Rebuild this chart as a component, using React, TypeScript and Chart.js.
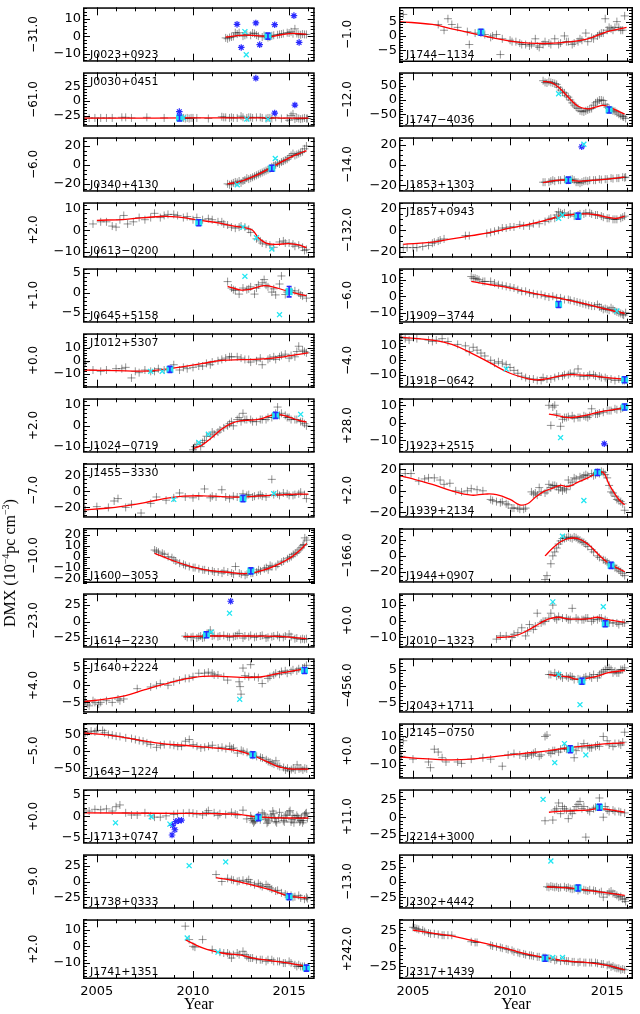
import React, { useEffect, useRef } from "react";
import { Chart, registerables } from "chart.js";
Chart.register(...registerables);

// ---------- axes ----------
const X_MIN = 2004.28;
const X_MAX = 2016.33;
const xTickLabels = [2005, 2010, 2015];
const xMinorTicks = [2005, 2006, 2007, 2008, 2009, 2010, 2011, 2012, 2013, 2014, 2015, 2016];

// panels: 0-14 left column (top to bottom), 15-29 right column
const pulsarNames = [
  "J0023+0923", "J0030+0451", "J0340+4130", "J0613−0200", "J0645+5158",
  "J1012+5307", "J1024−0719", "J1455−3330", "J1600−3053", "J1614−2230",
  "J1640+2224", "J1643−1224", "J1713+0747", "J1738+0333", "J1741+1351",
  "J1744−1134", "J1747−4036", "J1853+1303", "J1857+0943", "J1909−3744",
  "J1918−0642", "J1923+2515", "J1939+2134", "J1944+0907", "J2010−1323",
  "J2043+1711", "J2145−0750", "J2214+3000", "J2302+4442", "J2317+1439",
];
const offsetLabels = [
  "−31.0", "−61.0", "−6.0", "+2.0", "+1.0", "+0.0", "+2.0", "−7.0", "−10.0", "−23.0",
  "+4.0", "−5.0", "+0.0", "−9.0", "+2.0",
  "−1.0", "−12.0", "−14.0", "−132.0", "−6.0", "−4.0", "+28.0", "+2.0", "−166.0", "+0.0",
  "−456.0", "+0.0", "+11.0", "−13.0", "+242.0",
];
const nameAtTop = [1, 5, 7, 10, 18, 26];
const yMins = [-14.7, -44, -28.3, -12.9, -7.4, -20.4, -12.9, -32.8, -24, -39.7, -8, -82, -6.3, -43, -19.5,
  -9.1, -94, -26.4, -25.3, -16.1, -19, -17.1, -24.9, -34, -16.3, -7.9, -19.8, -37.2, -43.8, -42.8];
const yMaxs = [16.6, 49, 29.2, 13.2, 6.1, 20.8, 13.2, 35, 26, 42.9, 7.85, 84, 6.2, 43, 16.1,
  10.1, 97.6, 27.4, 25.7, 17, 18.7, 14, 25.5, 35, 17.3, 8.35, 19.3, 39.2, 44.9, 40.1];
const yTickLabels = [
  [-10, 0, 10], [-25, 0, 25], [-20, 0, 20], [-10, 0, 10], [-5, 0, 5],
  [-10, 0, 10], [-10, 0, 10], [-20, 0, 20], [-20, -10, 0, 10, 20], [-25, 0, 25],
  [-5, 0, 5], [-50, 0, 50], [-5, 0, 5], [-25, 0, 25], [-10, 0, 10],
  [-5, 0, 5], [-50, 0, 50], [-20, 0, 20], [-20, 0, 20], [-10, 0, 10],
  [-10, 0, 10], [-10, 0, 10], [-20, 0, 20], [-20, 0, 20], [-10, 0, 10],
  [-5, 0, 5], [-10, 0, 10], [-25, 0, 25], [-25, 0, 25], [-25, 0, 25],
];
const yMinorSteps = [2, 5, 5, 2, 1, 2, 2, 5, 2, 5, 1, 10, 1, 5, 2, 1, 10, 5, 5, 2, 2, 2, 5, 5, 2, 1, 2, 5, 5, 5];

// ---------- data (flat [year, value, ...]) ----------
const fitCurves: number[][] = [
  [2011.7, -0.5, 2012.5, 0.5, 2013.3, 0.3, 2014, -0.2, 2014.6, 0.8, 2015.2, 1.6, 2015.9, 1.0],
  [2004.3, -29.5, 2008, -29.2, 2011, -28.8, 2013, -29, 2015, -29.2, 2016, -29.5],
  [2011.8, -20, 2012.4, -18, 2013, -13.5, 2013.5, -9, 2014, -3.5, 2014.5, 2, 2015, 7.5, 2015.5, 12, 2015.9, 15],
  [2005, 4.7, 2006.5, 5.2, 2008.3, 6.5, 2009.3, 6.2, 2010.3, 4.8, 2011.3, 3.5, 2012, 2.2, 2012.7, 1.2, 2013.1, 0, 2013.4, -3.5, 2013.8, -6, 2014.3, -6.6, 2015, -6.3, 2015.5, -6.9, 2015.9, -8.2],
  [2011.8, 1.6, 2012.5, 0.7, 2013, 0.9, 2013.7, 1.8, 2014.3, 1.3, 2015, 0.3, 2015.9, -0.7],
  [2004.3, -7, 2006, -7.5, 2007.5, -7.8, 2008.5, -6.5, 2009.5, -4.5, 2010.5, -2, 2011.5, 0.3, 2012.5, 0.8, 2013.5, 1.2, 2014.5, 2.5, 2015.3, 4.5, 2016, 6],
  [2010, -11, 2010.5, -9, 2011, -5.5, 2011.5, -1.5, 2012, 1.2, 2012.5, 2.5, 2013, 2.7, 2013.5, 3.3, 2014, 4.8, 2014.4, 5.5, 2015, 4.2, 2015.5, 2.6, 2015.9, 1.8],
  [2004.3, -23, 2005.5, -21, 2006.5, -18, 2007.5, -14, 2008.5, -9, 2009.5, -6, 2010.5, -5.5, 2011.5, -6.5, 2012.5, -7, 2013.5, -5.5, 2014.5, -4.3, 2015.5, -3.5, 2016, -3.5],
  [2008, 3, 2009, -4, 2010, -9.5, 2011, -13, 2012, -14.5, 2012.6, -15.5, 2013.1, -14.8, 2013.6, -12.5, 2014.1, -9.5, 2014.6, -5.5, 2015.1, -0.5, 2015.5, 5, 2015.9, 12],
  [2009.5, -23, 2010.5, -22, 2012, -22, 2013.5, -22, 2014.5, -22.5, 2015.3, -24.5, 2015.9, -26],
  [2004.3, -4.8, 2005.5, -4, 2006.5, -3, 2007.5, -1.3, 2008.5, 0.3, 2009.5, 1.7, 2010.5, 2.6, 2011.5, 2.6, 2012.5, 2.3, 2013.5, 2.4, 2014.5, 3.5, 2015.5, 4.5, 2016, 5],
  [2004.3, 55, 2006, 45, 2007.5, 30, 2008.5, 22, 2009.5, 18, 2010.5, 13, 2011.5, 8, 2012.3, 2, 2013, -10, 2013.5, -22, 2014, -35, 2014.5, -47, 2015, -52, 2016, -53],
  [2004.3, 0.8, 2008, 0.7, 2011, 0.6, 2012.5, 0.4, 2013.2, -0.1, 2014, -0.3, 2015, -0.4, 2016, -0.4],
  [2011.2, 6, 2012, 2, 2013, -5, 2014, -13, 2015, -23, 2015.9, -26],
  [2009.6, 4, 2010.5, -1, 2011.5, -4, 2012.5, -5.3, 2013.2, -7.2, 2014, -8.5, 2015, -10, 2015.9, -12],
  [2004.3, 5, 2006, 4, 2007, 2.5, 2008, 1, 2009, -0.5, 2010, -1.8, 2011, -2.5, 2012, -2.6, 2013, -2.1, 2014, -1, 2015, 1.5, 2016, 3],
  [2011.7, 65, 2012.1, 62, 2012.5, 45, 2013, 10, 2013.5, -22, 2014, -31, 2014.4, -25, 2014.8, -19, 2015.2, -28, 2015.9, -50],
  [2011.7, -17.5, 2012.5, -15, 2013, -15, 2013.5, -16, 2014, -15.5, 2015, -14, 2015.9, -12],
  [2004.5, -13, 2006, -11, 2007, -8, 2008, -5, 2009, -2, 2010, 2, 2011, 5.5, 2012, 10, 2012.5, 13, 2013, 14, 2013.5, 15, 2014, 15, 2014.5, 14, 2015, 12, 2015.5, 11, 2015.9, 13],
  [2008, 9, 2009, 7, 2010, 5, 2011, 2.3, 2012, 0, 2013, -2.3, 2014, -5, 2015, -8, 2015.9, -10.5],
  [2004.3, 16, 2006, 14, 2007, 11, 2008, 5, 2009, -2, 2010, -9, 2011, -13, 2011.5, -13.5, 2012, -12.5, 2013, -10, 2014, -10.5, 2015, -12, 2015.9, -13],
  [2012, 5, 2012.5, 4, 2013, 3, 2013.5, 3.5, 2014, 4.5, 2014.5, 6, 2015, 7, 2015.9, 8.5],
  [2004.3, 14, 2005, 11, 2006, 6, 2007, 0, 2008, -4, 2008.7, -3, 2009.3, -3.5, 2010, -8, 2010.5, -13, 2010.9, -12, 2011.3, -6, 2011.7, -1, 2012.2, 2.5, 2012.6, 5, 2013, 4, 2013.5, 8, 2014, 12, 2014.5, 16.5, 2014.8, 17, 2015.1, 6, 2015.4, -3, 2015.6, -8, 2015.9, -13],
  [2011.8, 0, 2012.2, 10, 2012.6, 18, 2013, 22, 2013.5, 22, 2014, 15, 2014.5, 3, 2015, -8, 2015.5, -15, 2015.9, -20],
  [2009.3, -10, 2010, -9.5, 2010.5, -8, 2011, -5, 2011.5, -1.5, 2012, 1.5, 2012.5, 2.5, 2013, 1.5, 2014, 1.5, 2014.5, 2.5, 2015, 1, 2015.9, -0.5],
  [2012, 3.5, 2012.5, 3, 2013, 2.8, 2013.4, 2.1, 2013.8, 2.2, 2014.5, 3, 2015, 4, 2015.9, 4.7],
  [2004.3, -4.5, 2006, -6, 2007, -6.5, 2008, -6, 2009, -4.5, 2010, -3, 2011, -1.5, 2012, 0, 2013, 2, 2014, 3.5, 2015, 5, 2015.9, 5.5],
  [2012, 7, 2013, 9, 2014, 10, 2014.5, 12, 2015, 11, 2015.9, 7],
  [2011.9, -8, 2013, -10, 2014, -14, 2015, -18, 2015.9, -22],
  [2005, 25, 2006, 21, 2007, 17, 2008, 11, 2009, 5, 2010, -2, 2011, -9, 2012, -14, 2013, -18, 2014, -20, 2015, -24, 2015.9, -30],
];

const dmxPoints: number[][] = [
  [2011.7, -1, 2011.8, -1.5, 2011.9, -0.8, 2012, -0.5, 2012.2, 2, 2012.4, 2, 2012.6, 0, 2012.7, 0.5, 2012.8, 1, 2013, 0.5, 2013.1, 1.8, 2013.2, 1.5, 2013.4, 0, 2013.6, -0.5, 2013.7, 0.3, 2013.8, 0, 2014, -0.5, 2014.2, 0.5, 2014.4, 0.8, 2014.5, 1, 2014.7, 1.5, 2014.9, 2, 2015, 1.8, 2015.1, 2.5, 2015.3, 4.2, 2015.4, 1.5, 2015.5, 1, 2015.6, 0.8, 2015.7, 1.2, 2015.8, 1, 2015.9, 1],
  [2004.6, -29, 2004.9, -29, 2005.2, -29, 2005.5, -29, 2005.8, -29, 2006.3, -28, 2006.5, -28, 2006.8, -29, 2007.6, -28, 2008.5, -29, 2009.5, -29, 2009.8, -30, 2010, -29, 2010.2, -29, 2010.8, -30, 2011.5, -27, 2011.7, -28, 2012, -28, 2012.3, -29, 2012.5, -26, 2012.8, -29, 2013, -28, 2013.3, -28, 2013.6, -29, 2013.8, -30, 2014, -29, 2014.3, -28, 2014.6, -30, 2014.9, -29, 2015, -33, 2015.1, -25, 2015.2, -22, 2015.3, -31, 2015.5, -30, 2015.7, -30, 2015.9, -30],
  [2011.8, -20, 2011.9, -21, 2012.1, -19, 2012.2, -18, 2012.4, -17, 2012.5, -19, 2012.7, -16, 2012.8, -14, 2013, -14, 2013.1, -13, 2013.3, -11, 2013.4, -10, 2013.6, -8, 2013.7, -7, 2013.8, -6, 2014, -4, 2014.2, -1, 2014.3, 0, 2014.4, 2, 2014.5, 1, 2014.7, 4, 2014.8, 5, 2015, 8, 2015.1, 10, 2015.2, 12, 2015.4, 11, 2015.5, 12, 2015.7, 14, 2015.8, 17, 2015.9, 20],
  [2004.8, 3, 2005.5, 4, 2005.8, 2, 2006, 1.5, 2006.4, 7, 2006.9, 4, 2007.5, 5, 2008, 8, 2008.3, 6, 2008.7, 7.5, 2009, 7.5, 2009.5, 6, 2010, 5, 2010.5, 5, 2011, 5, 2011.3, 4, 2011.6, 3, 2011.8, 2.5, 2012, 1.5, 2012.2, 1, 2012.5, 2, 2012.7, 1.5, 2013, -1, 2013.3, -4, 2013.5, -5, 2013.8, -6.5, 2014.2, -8, 2014.5, -5.5, 2014.8, -6, 2015.2, -6.5, 2015.5, -7, 2015.9, -9],
  [2011.8, 2.8, 2012, 1.2, 2012.2, 0.6, 2012.4, -0.3, 2012.6, 1.2, 2012.8, 0.8, 2013, 1.5, 2013.2, -0.3, 2013.4, 2, 2013.6, 2.5, 2013.7, 3.3, 2013.9, 1.5, 2014.1, 0.2, 2014.3, -0.5, 2014.5, 2.2, 2014.6, 4.2, 2014.8, -0.4, 2015, 0.8, 2015.3, 0.5, 2015.6, -0.5, 2015.9, -1.3],
  [2004.4, -1, 2004.8, -7, 2005.5, -7, 2006, -6, 2006.5, -5, 2006.8, -13, 2007, -8, 2007.5, -7, 2008, -8, 2008.5, -7, 2009, -3, 2009.3, -7, 2009.7, -6, 2010, -5, 2010.3, -4, 2010.7, -2, 2011, -1, 2011.3, 0, 2011.7, 2, 2012, 3, 2012.3, 3, 2012.7, 1, 2013, -1, 2013.3, 0, 2013.6, -3, 2013.9, 1, 2014.2, 3, 2014.5, 3, 2014.8, 5, 2015, 2, 2015.3, 3, 2015.5, 11, 2015.7, 8, 2015.9, 6],
  [2010, -11.5, 2010.2, -9, 2010.5, -8, 2010.7, -5, 2011, -3, 2011.3, -3, 2011.6, -1, 2011.9, 1, 2012.1, 0, 2012.4, 4, 2012.6, 6, 2012.8, 3, 2013, 3, 2013.3, 2, 2013.6, 3, 2013.9, 4, 2014.2, 5, 2014.4, 9, 2014.6, 6, 2014.9, 4, 2015.1, 3, 2015.4, 3, 2015.7, 2, 2015.9, 0],
  [2004.4, -23, 2005, -19, 2005.6, -20, 2005.9, -12, 2006.1, -9, 2006.5, -20, 2006.8, -16, 2007.3, -27, 2007.8, -15, 2008.1, -7, 2008.6, -11, 2009, -8, 2009.3, -2, 2009.6, -7, 2010, -8, 2010.3, -6, 2010.6, 3, 2010.9, -8, 2011.2, -7, 2011.5, 2, 2011.9, -9, 2012.3, -7, 2012.6, -3, 2012.9, -4, 2013.2, -6, 2013.5, -4, 2013.8, -7, 2014.1, 15, 2014.4, -3, 2014.7, -2, 2015, -5, 2015.3, -4, 2015.6, -1, 2015.9, -9],
  [2008, 6, 2008.2, 4, 2008.4, 3, 2008.7, 0, 2009, -3, 2009.3, -6, 2009.6, -8, 2010, -10, 2010.3, -11, 2010.6, -12, 2011, -13, 2011.3, -14, 2011.6, -13, 2012, -15, 2012.2, -9, 2012.5, -16, 2012.8, -16, 2013, -15, 2013.3, -14, 2013.5, -13, 2013.8, -10, 2014, -8, 2014.3, -9, 2014.6, -5, 2014.9, -2, 2015.1, 0, 2015.3, 3, 2015.5, 6, 2015.7, 10, 2015.8, 17, 2015.9, 15],
  [2009.6, -22, 2009.9, -24, 2010.2, -25, 2010.4, -22, 2010.6, -24, 2010.8, -18, 2010.9, -13, 2011, -22, 2011.3, -23, 2011.6, -21, 2011.9, -24, 2012.2, -22, 2012.4, -18, 2012.6, -25, 2012.9, -23, 2013.2, -24, 2013.5, -22, 2013.8, -25, 2014.1, -23, 2014.4, -21, 2014.7, -24, 2015, -19, 2015.3, -26, 2015.6, -27, 2015.9, -26],
  [2004.4, -4.5, 2004.6, -6, 2004.9, -5, 2005.2, -5, 2005.5, -4.5, 2005.8, -5, 2006.1, -4, 2006.4, -4, 2007.1, -1, 2007.8, -0.5, 2008.3, 0.5, 2008.7, 0, 2009, 1, 2009.3, 1.5, 2009.6, 2, 2010, 2.5, 2010.3, 3.5, 2010.6, 3.5, 2011, 3.5, 2011.3, 3, 2011.6, 2.5, 2011.8, 1.5, 2012.4, 1, 2012.45, -0.4, 2012.5, -2.6, 2012.6, 5, 2013, 6, 2012.7, 2.8, 2013.2, 2.5, 2013.6, 0.5, 2014, 2.5, 2014.3, 3.5, 2014.6, 4, 2014.9, 3.5, 2015.2, 4.5, 2015.5, 4.8, 2015.8, 5.2, 2015.9, 5.8],
  [2004.4, 55, 2004.7, 60, 2005, 62, 2005.3, 62, 2005.6, 50, 2006, 45, 2006.5, 40, 2007, 35, 2007.4, 30, 2007.8, 20, 2008.1, 12, 2008.5, 20, 2009, 18, 2009.4, 15, 2009.6, 30, 2009.8, 35, 2010, 20, 2010.4, 10, 2010.8, 15, 2011, 18, 2011.3, 10, 2011.7, 8, 2011.9, 15, 2012.1, 10, 2012.3, -5, 2012.6, 0, 2013, -10, 2013.3, -15, 2013.6, -20, 2013.9, -30, 2014.1, -35, 2014.3, -28, 2014.5, -45, 2014.8, -55, 2015, -58, 2015.2, -50, 2015.4, -40, 2015.6, -50, 2015.9, -52],
  [2004.3, 1.5, 2004.6, 1.2, 2004.9, 1.6, 2005.2, 1.5, 2005.5, 1.7, 2005.8, 1.2, 2006, 2.2, 2006.2, 2.6, 2006.5, 0.8, 2006.8, 0.3, 2007.1, 0.3, 2007.5, 0.8, 2007.8, 0.1, 2008, -0.2, 2008.3, -0.2, 2008.6, 0.1, 2009, 0.4, 2009.2, 0.6, 2009.5, 0.7, 2009.8, 0.8, 2010.2, 0.5, 2010.5, 0.3, 2010.8, 1.3, 2011.1, 0.8, 2011.4, 0.6, 2011.7, 0.4, 2012, 0.9, 2012.3, 0.3, 2012.6, 1.4, 2012.8, -0.6, 2013, 0.1, 2013.1, -1.0, 2013.2, -1.2, 2013.35, -0.2, 2013.5, -0.8, 2013.7, 0.5, 2013.8, -0.6, 2013.9, -1.3, 2014.1, -0.2, 2014.2, 0.6, 2014.3, -1.2, 2014.45, -0.4, 2014.5, 0.9, 2014.7, -1, 2014.8, 0.2, 2014.9, 0.5, 2015.1, -1.3, 2015.2, 0.2, 2015.3, -0.3, 2015.5, -0.5, 2015.6, -1.0, 2015.7, -1.5, 2015.8, 0.3, 2015.9, 0.8],
  [2011.2, 11, 2011.5, 0, 2011.8, 5, 2012, 3, 2012.3, 0, 2012.6, 2, 2012.9, 3, 2013.2, -5, 2013.4, -3, 2013.6, -8, 2013.8, -5, 2014, -10, 2014.3, -15, 2014.6, -18, 2014.9, -22, 2015.2, -25, 2015.5, -22, 2015.8, -28, 2015.95, -27],
  [2009.6, 12, 2009.8, 4, 2010, 0, 2010.1, -0.5, 2010.5, 4, 2011, -2, 2011.6, -4, 2011.8, -4, 2012, -7, 2012.3, -4, 2012.6, -3, 2012.8, -6, 2013, -7, 2013.3, -8, 2013.6, -8, 2013.9, -8, 2014.2, -9, 2014.5, -9, 2014.8, -10, 2015, -9, 2015.3, -11, 2015.5, -11, 2015.7, -12, 2015.9, -13],
  [2004.5, 7.5, 2006.3, 4, 2006.6, 2, 2006.8, 6, 2007, 4, 2007.3, 3, 2007.8, 1.5, 2007.9, -3, 2008.2, 1, 2008.5, 1, 2009, -0.5, 2009.3, 0.5, 2009.5, -6.5, 2009.6, -1, 2010, -1.5, 2010.3, -2, 2010.6, -3, 2011, -3.5, 2011.3, -1, 2011.5, -4, 2011.8, -2, 2012, -2.5, 2012.3, -1, 2012.5, -3, 2012.8, 0, 2013, -2, 2013.3, -2.5, 2013.6, -1, 2013.9, 1, 2014.2, -0.5, 2014.5, 0, 2014.7, 1, 2014.9, 6, 2015.1, 3, 2015.3, 2, 2015.5, 5, 2015.7, 2, 2015.9, 7],
  [2011.7, 68, 2011.8, 62, 2012, 65, 2012.2, 60, 2012.4, 55, 2012.6, 35, 2012.8, 25, 2013, 10, 2013.2, -10, 2013.4, -25, 2013.6, -38, 2013.8, -42, 2014, -35, 2014.2, -30, 2014.4, -10, 2014.6, 0, 2014.8, -2, 2015, -25, 2015.2, -35, 2015.4, -40, 2015.6, -50, 2015.8, -58, 2015.95, -65],
  [2011.7, -17, 2012, -17, 2012.2, -15, 2012.5, -15, 2012.8, -14, 2013, -15, 2013.2, -14, 2013.4, -17, 2013.6, -18, 2013.8, -16, 2014, -16, 2014.3, -15, 2014.6, -14, 2014.9, -14, 2015.2, -13, 2015.5, -13, 2015.8, -12, 2015.95, -12],
  [2004.5, -16, 2005, -16, 2005.5, -15, 2006, -12, 2006.3, -10, 2006.6, -8, 2007.7, -5, 2008.8, -3, 2009.2, -1, 2009.6, 2, 2010, 3, 2010.5, 5, 2011, 4, 2011.5, 6, 2012, 10, 2012.3, 11, 2012.5, 17, 2012.7, 15, 2013, 14, 2013.3, 13, 2013.6, 15, 2013.9, 16, 2014.2, 15, 2014.5, 14, 2014.8, 12, 2015.1, 11, 2015.4, 10, 2015.7, 11, 2015.9, 13],
  [2008, 12, 2008.2, 11, 2008.4, 10, 2008.7, 9, 2009, 9, 2009.4, 7, 2009.8, 6, 2010.2, 5, 2010.6, 3, 2011, 2, 2011.4, 1, 2011.8, 0, 2012.2, 0, 2012.6, -1, 2013, -2, 2013.3, -3, 2013.6, -4, 2013.9, -5, 2014.2, -6, 2014.5, -5, 2014.8, -8, 2015, -8, 2015.2, -7, 2015.4, -9, 2015.6, -10, 2015.8, -11, 2015.95, -10],
  [2004.4, 16, 2004.8, 14, 2005.8, 14, 2006.2, 14, 2006.5, 15, 2007.7, 10, 2007.9, 6, 2008.1, 9, 2008.5, 5, 2009, 0, 2009.4, -1, 2009.8, -3, 2010.2, -7, 2010.6, -11, 2011, -13, 2011.4, -14, 2011.7, -12, 2012.1, -13, 2012.5, -11, 2012.8, -10, 2013.1, -9, 2013.5, -6, 2013.8, -11, 2014.1, -10, 2014.4, -11, 2014.7, -12, 2015, -13, 2015.4, -14, 2015.8, -14],
  [2012, 10, 2012.1, -1.5, 2012.2, 9, 2012.3, 10, 2012.4, 5, 2012.6, -2, 2012.7, 2, 2012.9, 3, 2013.2, 4, 2013.5, 3, 2013.8, 4, 2014, 3, 2014.2, 8, 2014.5, 5, 2014.8, 6, 2015.1, 7, 2015.4, 8, 2015.7, 8, 2015.9, 9],
  [2004.3, 14, 2004.6, 16, 2004.9, 16, 2005.3, 9, 2005.6, 11, 2005.8, 12, 2006.1, 12, 2006.4, 10, 2006.6, 6, 2006.9, 7, 2007.2, 0, 2007.5, -1, 2007.8, 0, 2008, 2, 2008.3, 1, 2008.6, 0, 2009, -8, 2009.3, -10, 2009.6, -10, 2009.9, -13, 2010.2, -16, 2010.5, -17, 2010.8, -16, 2011.1, -1, 2011.3, -2, 2011.5, 3, 2011.8, -2, 2012, 6, 2012.3, 5, 2012.5, 1, 2012.8, 2, 2013, 10, 2013.3, 12, 2013.6, 13, 2013.9, 15, 2014.2, 16, 2014.5, 17, 2014.7, 18, 2014.9, 15, 2015.1, 5, 2015.3, -2, 2015.5, -8, 2015.7, -10, 2015.9, -18],
  [2011.8, -30, 2011.9, -25, 2012.1, -10, 2012.3, 5, 2012.5, 15, 2012.7, 22, 2012.9, 23, 2013.1, 23, 2013.3, 24, 2013.6, 20, 2013.9, 15, 2014.2, 8, 2014.5, 0, 2014.8, -5, 2015.1, -10, 2015.4, -15, 2015.7, -20, 2015.9, -25],
  [2009.3, -11, 2009.5, -9, 2009.8, -9, 2010.1, -10, 2010.4, -7, 2010.6, -4, 2010.8, -9, 2011, -2, 2011.2, -5, 2011.4, 5, 2011.6, -1, 2011.8, 0, 2012, 2, 2012.1, 5, 2012.2, 10, 2012.4, 1, 2012.7, 2, 2013, 1, 2013.2, 8, 2013.5, 1, 2013.8, 1, 2014, 2, 2014.2, 0, 2014.5, 1, 2014.7, 2, 2015, 0, 2015.3, -1, 2015.6, -2, 2015.9, -1],
  [2012, 3.5, 2012.3, 4, 2012.5, 3.5, 2012.7, 2.5, 2012.9, 3, 2013.1, 3, 2013.3, 2, 2013.6, 2, 2013.8, 2.5, 2014.1, 3, 2014.3, 3.5, 2014.5, 2.5, 2014.7, 4, 2014.9, 5, 2015.1, 5.5, 2015.3, 4, 2015.5, 4, 2015.7, 5, 2015.9, 5.5],
  [2004.3, 3, 2004.4, -4, 2004.5, 7, 2005, -6, 2005.8, -8, 2005.9, -12, 2006.1, 1, 2006.3, -1, 2006.5, -5, 2006.7, -8, 2007.3, -8, 2007.5, -9, 2008, -6, 2008.6, -5, 2009, -6, 2009.6, -11, 2009.9, -3, 2010.2, -2, 2010.5, -3, 2010.8, -4, 2011.1, -3, 2011.3, -1, 2011.5, -4, 2011.8, 10, 2011.9, 11, 2012.1, -2, 2012.3, 0, 2012.6, 1, 2012.8, 2, 2013, 1, 2013.3, -5, 2013.5, 3, 2013.8, 5, 2014, 3, 2014.2, 2, 2014.5, 4, 2014.8, 10, 2015, 7, 2015.3, 3, 2015.6, 5, 2015.9, 13],
  [2011.8, -5, 2012.2, -4, 2012.3, 10, 2012.5, 20, 2012.7, 15, 2012.9, 10, 2013, -2, 2013.2, 5, 2013.4, 15, 2013.6, 22, 2013.8, 15, 2013.9, -28, 2014, 10, 2014.3, 12, 2014.6, 27, 2014.8, 0, 2015, 10, 2015.3, 10, 2015.6, 8, 2015.9, 6],
  [2011.9, -8, 2012.1, -7, 2012.3, -9, 2012.5, -10, 2012.8, -8, 2013, -9, 2013.2, -12, 2013.5, -14, 2013.8, -13, 2014, -15, 2014.3, -14, 2014.6, -18, 2014.8, -25, 2015, -20, 2015.2, -15, 2015.4, -20, 2015.6, -25, 2015.8, -28, 2015.95, -32],
  [2005, 29, 2005.2, 27, 2005.5, 25, 2005.8, 21, 2006.1, 20, 2006.5, 18, 2006.8, 18, 2007, 18, 2008, 9, 2008.3, 8, 2009, 4, 2009.3, 2, 2009.6, 0, 2009.9, -2, 2010.2, -5, 2010.5, -7, 2010.8, -9, 2011.1, -10, 2011.4, -12, 2011.7, -13, 2012, -14, 2012.3, -17, 2012.6, -18, 2012.9, -18, 2013.2, -19, 2013.5, -20, 2013.8, -20, 2014.1, -20, 2014.4, -20, 2014.7, -22, 2015, -24, 2015.3, -25, 2015.5, -28, 2015.7, -30, 2015.9, -30],
];

// additional DMX measurements in the densely sampled stretches
const dmxPointsDense: number[][] = [
  [2012.1, -0.2, 2012.3, 1.2, 2013.3, 0.6, 2013.9, -0.8, 2014.1, 0.2, 2014.6, 1.2, 2015.2, 1.4],
  [2009.6, -30, 2009.7, -29, 2009.9, -29, 2011.6, -28, 2011.9, -29, 2012.1, -29, 2012.6, -28, 2012.9, -28, 2013.1, -29, 2013.5, -28, 2013.9, -29, 2014.1, -30, 2015.4, -29, 2015.6, -31, 2015.8, -29, 2015.95, -30],
  [2012, -20, 2012.3, -18.5, 2012.6, -17, 2012.9, -15, 2013.2, -12, 2013.5, -9, 2013.9, -5, 2014.1, -2, 2014.6, 3, 2014.9, 6, 2015.3, 10, 2015.6, 13],
  [2005.2, 4, 2006.2, 5, 2006.6, 3, 2007.2, 6, 2007.8, 6, 2008.5, 7, 2009.2, 7, 2009.7, 6.5, 2010.2, 6, 2010.8, 5.5, 2011.5, 4, 2012.4, 1.5, 2012.9, 0.5, 2013.6, -6, 2014, -7, 2014.7, -5, 2015, -6, 2015.3, -7.5, 2015.7, -8, 2015.8, -9.5],
  [2012.1, 0.8, 2012.9, 1.0, 2013.3, 1.2, 2013.8, 1.9, 2014.2, 1.0, 2014.9, 0.2, 2015.1, 0.5, 2015.5, 0, 2015.7, -0.8],
  [2005.2, -8, 2006.3, -6, 2007.2, -9, 2007.8, -8, 2008.2, -6, 2009.5, -5, 2010.5, -4, 2010.9, -3, 2011.5, 1, 2011.9, 3, 2012.5, 2, 2012.9, 1, 2013.5, 2, 2014, 2, 2014.3, 1, 2014.6, 4, 2015.1, 4, 2015.4, 7, 2015.8, 7],
  [2010.1, -10, 2010.4, -10, 2010.6, -7, 2010.9, -5, 2011.1, -4, 2011.4, -2, 2011.8, 0, 2012, 2, 2012.3, 3, 2012.5, 2, 2012.7, 3, 2013.1, 2, 2013.5, 3, 2013.8, 3, 2014.1, 4, 2014.3, 6, 2014.5, 5, 2014.8, 5, 2015, 4, 2015.3, 3, 2015.6, 2, 2015.8, 1],
  [2011, -6, 2011.7, -7, 2012.1, -6, 2012.8, -5, 2013.1, -7, 2013.4, -5, 2013.6, -6, 2014.2, -4, 2014.5, -5, 2014.9, -3, 2015.2, -5, 2015.5, -3, 2015.8, -4],
  [2008.1, 5, 2008.5, 2, 2008.9, -1, 2009.1, -4, 2009.5, -7, 2009.8, -9, 2010.1, -10, 2010.5, -12, 2010.8, -13, 2011.1, -14, 2011.5, -15, 2011.8, -14, 2012.1, -16, 2012.4, -15, 2012.7, -17, 2013.1, -15, 2013.4, -12, 2013.7, -11, 2013.9, -12, 2014.1, -9, 2014.4, -7, 2014.7, -4, 2015, -1, 2015.2, 2, 2015.4, 4, 2015.6, 8, 2015.75, 11],
  [2009.7, -24, 2010, -23, 2010.3, -23, 2010.5, -25, 2011.1, -21, 2011.4, -22, 2011.8, -23, 2012.1, -23, 2012.3, -21, 2012.7, -22, 2013, -21, 2013.3, -23, 2013.6, -21, 2013.9, -24, 2014.2, -22, 2014.5, -24, 2014.8, -22, 2015.1, -23, 2015.4, -25, 2015.7, -26, 2015.8, -27],
  [2004.5, -5.5, 2004.8, -4.5, 2005.1, -5.5, 2006.2, -4.5, 2008.1, 0, 2009.8, 2, 2010.8, 3.8, 2011.1, 3, 2012.9, 2.5, 2013.4, 2.2, 2013.9, 2, 2014.2, 3, 2014.5, 3.2, 2014.8, 4.2, 2015.1, 4, 2015.4, 4.2, 2015.7, 5],
  [2004.5, 57, 2004.9, 58, 2005.4, 55, 2005.8, 48, 2006.2, 44, 2006.8, 38, 2007.2, 32, 2007.6, 25, 2008.3, 18, 2008.8, 20, 2009.2, 15, 2010.2, 15, 2010.6, 12, 2011.5, 12, 2012, 8, 2012.5, 3, 2012.8, -3, 2013.1, -12, 2013.5, -18, 2013.8, -25, 2014, -32, 2014.2, -38, 2014.4, -42, 2014.7, -48, 2014.9, -50, 2015.1, -54, 2015.3, -55, 2015.5, -52, 2015.7, -55, 2015.8, -50],
  [2013.05, -0.5, 2013.15, -1.5, 2013.25, -0.9, 2013.4, 0.2, 2013.6, 0.8, 2013.75, -0.2, 2013.85, -1.6, 2013.95, -0.9, 2014.05, 0.3, 2014.15, 1.2, 2014.25, -0.5, 2014.35, -1.5, 2014.6, -0.2, 2014.75, -1.3, 2014.85, -0.5, 2015.0, 1.0, 2015.05, 1.3, 2015.15, -0.8, 2015.25, -1.5, 2015.4, 0.2, 2015.45, -0.2, 2015.55, -1.3, 2015.65, -0.3, 2015.75, -1.0, 2015.85, 0.6, 2015.95, -0.5, 2010, 0.7, 2010.7, 0.9, 2011.3, 0.2, 2012.2, 0.5],
  [2012.1, 2, 2012.4, 1, 2012.8, 0, 2013, -2, 2013.5, -6, 2013.9, -8, 2014.1, -12, 2014.4, -14, 2014.8, -20, 2015.1, -22, 2015.3, -24, 2015.6, -26, 2015.9, -25],
  [2011.4, -3.5, 2011.9, -5, 2012.1, -5, 2012.4, -5, 2012.7, -5, 2012.9, -7, 2013.1, -7, 2013.5, -8, 2013.8, -9, 2014.1, -8, 2014.4, -9, 2014.7, -10, 2015.1, -10, 2015.4, -12, 2015.6, -12, 2015.8, -12],
  [2008.7, 0.5, 2009.1, 0, 2010.1, -2, 2010.5, -2.5, 2010.8, -3, 2011.1, -3, 2011.4, -3.5, 2011.7, -3, 2012.1, -3, 2012.6, -2.5, 2012.9, -2, 2013.2, -3, 2013.5, -2, 2013.7, -1.5, 2014, -2, 2014.3, -1, 2014.6, 0.5, 2014.8, 1, 2015, 2, 2015.2, 2.5, 2015.4, 3, 2015.6, 3, 2015.8, 2],
  [2011.9, 60, 2012.1, 62, 2012.3, 58, 2012.5, 45, 2012.7, 28, 2012.9, 15, 2013.1, 0, 2013.3, -18, 2013.5, -30, 2013.7, -40, 2013.9, -38, 2014.1, -32, 2014.3, -18, 2014.5, -5, 2014.7, 0, 2014.9, -15, 2015.1, -30, 2015.3, -38, 2015.5, -45, 2015.7, -55, 2015.85, -60],
  [2011.8, -17, 2012.1, -16, 2012.3, -16, 2012.6, -15, 2012.9, -15, 2013.1, -14.5, 2013.3, -15, 2013.5, -17, 2013.7, -17, 2013.9, -15.5, 2014.1, -15, 2014.4, -15, 2014.7, -14.5, 2015, -14, 2015.3, -13.5, 2015.6, -13, 2015.9, -12.5],
  [2004.7, -16, 2005.2, -16, 2005.8, -14, 2006.1, -11, 2006.4, -9, 2007.9, -5, 2009, -2, 2009.4, 0, 2009.8, 2, 2010.2, 3, 2010.7, 4, 2011.2, 6, 2011.8, 8, 2012.1, 11, 2012.4, 14, 2012.6, 16, 2012.8, 16, 2013.1, 15, 2013.5, 14, 2013.8, 15, 2014.1, 16, 2014.4, 14, 2014.7, 13, 2015, 11, 2015.3, 10, 2015.5, 10, 2015.8, 12],
  [2008.1, 11, 2008.3, 10.5, 2008.6, 9, 2009.2, 8, 2009.6, 6.5, 2010, 5.5, 2010.4, 4, 2010.8, 3, 2011.2, 1.5, 2011.6, 1, 2012, -0.5, 2012.4, -1, 2012.8, -2, 2013.1, -2.5, 2013.45, -3.5, 2013.75, -4.5, 2014.05, -5.5, 2014.35, -6, 2014.6, -6.5, 2014.7, -7, 2014.9, -7.5, 2015.1, -8.5, 2015.3, -8, 2015.5, -9.5, 2015.7, -10.5, 2015.85, -11.5],
  [2004.6, 15, 2005.2, 15, 2006, 13, 2006.8, 13, 2007.3, 11, 2008.3, 7, 2008.7, 3, 2009.2, -2, 2009.6, -2, 2010, -5, 2010.4, -9, 2010.8, -12, 2011.2, -13, 2011.6, -14, 2011.9, -13, 2012.3, -12, 2012.7, -11, 2013, -10, 2013.3, -9, 2013.6, -11, 2014, -11, 2014.3, -10, 2014.6, -11, 2014.9, -12, 2015.2, -13, 2015.6, -13, 2015.9, -14],
  [2012.8, 3, 2013, 3.5, 2013.3, 2.5, 2013.6, 3, 2013.9, 3.5, 2014.1, 4, 2014.4, 5, 2014.6, 5.5, 2015, 7, 2015.2, 7, 2015.5, 7.5, 2015.8, 8.5],
  [2011.2, -3, 2011.4, -4, 2011.6, -1, 2011.9, 0, 2012.1, 3, 2012.2, 5, 2012.4, 4, 2012.6, 3, 2012.7, 0, 2012.9, 1, 2013.1, 5, 2013.2, 8, 2013.4, 11, 2013.7, 12, 2013.8, 14, 2014, 14, 2014.3, 14, 2014.4, 15, 2014.6, 16, 2014.8, 17, 2015, 12, 2015.2, -1, 2015.4, -5, 2015.6, -9, 2015.8, -12, 2009.1, -9, 2009.5, -11, 2009.8, -12, 2010.1, -16, 2010.4, -16, 2010.7, -17],
  [2012.2, 0, 2012.4, 10, 2012.6, 19, 2012.8, 22, 2013, 24, 2013.2, 22, 2013.4, 23, 2013.5, 21, 2013.7, 18, 2013.8, 17, 2014, 12, 2014.3, 5, 2014.6, -2, 2014.9, -6, 2015, -8, 2015.3, -12, 2015.5, -16, 2015.6, -18, 2015.8, -22],
  [2010.2, -8, 2010.9, -6, 2011.3, -3, 2011.7, 0, 2012.3, 2, 2012.5, 3, 2012.9, 2, 2013.1, 1, 2013.4, 2, 2013.7, 1, 2013.9, 2, 2014.3, 1, 2014.6, 2, 2014.9, 1, 2015.1, -1, 2015.5, -1, 2015.8, -1],
  [2012.1, 3.5, 2012.4, 3, 2012.6, 3, 2013, 2.5, 2013.2, 2.8, 2013.5, 2.2, 2013.9, 2.8, 2014.2, 2.5, 2014.6, 3.5, 2014.8, 4.5, 2015, 5, 2015.2, 5, 2015.4, 4.5, 2015.6, 4, 2015.8, 5],
  [2010.9, -3, 2011.2, -2, 2011.6, -3, 2012, -1, 2012.2, 0, 2012.5, -1, 2012.9, 1, 2013.2, 1, 2013.4, 0, 2013.7, 2, 2014.1, 2, 2014.4, 3, 2014.6, 3, 2015.1, 4, 2015.4, 5, 2015.7, 4, 2015.8, 6],
  [2012.4, 12, 2012.6, 5, 2012.8, 12, 2013.1, 8, 2013.3, 10, 2013.5, 18, 2013.7, 12, 2014.1, 8, 2014.4, 14, 2014.9, 15, 2015.1, 8, 2015.4, 8, 2015.7, 7],
  [2012, -9, 2012.2, -8, 2012.4, -8, 2012.6, -9, 2012.9, -10, 2013.1, -11, 2013.3, -11, 2013.6, -12, 2013.9, -14, 2014.1, -13, 2014.4, -15, 2014.7, -16, 2015.1, -17, 2015.3, -19, 2015.5, -22, 2015.7, -24, 2015.9, -28],
  [2005.1, 28, 2005.3, 26, 2005.6, 23, 2005.9, 20, 2006.3, 19, 2006.6, 18, 2008.2, 8, 2009.1, 3, 2009.5, 1, 2009.8, -1, 2010.1, -3, 2010.4, -6, 2010.7, -8, 2011, -10, 2011.2, -11, 2011.5, -12, 2011.8, -13, 2012.1, -15, 2012.4, -16, 2012.8, -17, 2013, -18, 2013.3, -19, 2013.6, -19, 2013.9, -20, 2014.2, -20, 2014.5, -21, 2014.8, -22, 2015.1, -23, 2015.2, -26, 2015.4, -27, 2015.6, -28, 2015.8, -29],
];

const cyanCrosses: number[][] = [
  [2012.7, 2.6, 2012.77, -10.7], [2009.5, -29, 2012.8, -31, 2013.9, -31], [2014.28, 6.8, 2012.3, -21],
  [2013.3, -3.5, 2014.1, -8.8, 2012.6, 1.5], [2012.7, 4.1, 2014.5, -5.4], [2007.8, -8, 2008.4, -8],
  [2010.3, -8, 2010.8, -4, 2015.6, 5.5], [2009.0, -10, 2014.2, -3], [], [2011.9, 12.7, 2010.95, -16],
  [2012.43, -4.1], [], [2005.97, -1.5, 2007.83, -0.1, 2008.8, -1.8], [2009.8, 25, 2011.7, 31], [2009.7, 5, 2011.3, -3.5],
  [], [2012.5, 22], [2013.8, 20.5], [2012.5, 11, 2012.7, 14], [2015.5, -9],
  [2009.8, -6], [2012.6, -8.5], [2013.8, -9], [2012.7, 25], [2012.2, 12, 2014.8, 9],
  [2012.5, 3.5, 2013.6, -5.5], [2012.3, -8.5, 2012.8, 5, 2013.9, -3], [2011.7, 25], [2012.1, 34], [2012.2, -13, 2012.7, -13],
];

const blueStars: number[][] = [
  [2012.29, 6.8, 2012.51, -6.5, 2013.27, 7.6, 2013.47, -4.9, 2014.25, 6.6, 2015.25, 11.8, 2015.52, -3.6],
  [2009.29, -18.3, 2013.27, 39, 2014.25, -20.7, 2015.3, -7], [], [], [], [], [], [], [], [2011.96, 30.8],
  [], [], [2008.91, -4.3, 2009.06, -3.1, 2008.94, -2.1, 2009.1, -1.2, 2009.25, -1, 2009.4, -0.9], [], [],
  [], [], [2013.69, 18], [], [], [], [2014.85, -12], [], [], [], [], [], [], [], [],
];

// [year, value, half error]
const errorBars: number[][] = [
  [2013.9, 0, 1.5], [2009.3, -29, 2], [2014.1, -3.5, 2], [2010.3, 3.6, 1], [2015.0, 0.3, 1.3],
  [2008.8, -6.5, 1.8], [2014.3, 5, 1], [2012.6, -9, 4], [2013.0, -13, 1.5], [2010.7, -20, 2],
  [2015.8, 4.3, 0.6], [2013.1, -10, 4], [2013.4, -0.3, 0.5], [2015.0, -24, 3], [2015.9, -13, 1.5],
  [2008.5, 1.3, 1], [2015.1, -35, 5], [2013.0, -15, 1.5], [2013.5, 13, 1.5], [2012.5, -5, 1],
  [2015.9, -13.5, 1.5], [2015.9, 9, 1], [2014.5, 17, 2], [2015.2, -12, 2], [2014.9, -1.5, 1.5],
  [2013.7, 1.5, 0.5], [2013.1, 1, 2.5], [2014.6, 14, 4], [2013.5, -10, 3], [2011.8, -14, 3],
];

// ---------- helpers ----------
const toXY = (flat: number[]) => {
  const out: { x: number; y: number }[] = [];
  for (let k = 0; k + 1 < flat.length; k += 2) out.push({ x: flat[k], y: flat[k + 1] });
  return out;
};
const rowTop = (r: number) => Math.round(2 + r * 65.13);
const minus = (s: string) => s.replace("-", "\u2212");

const framePlugin = {
  id: "pgframe",
  afterDatasetsDraw(chart: any) {
    const i: number = chart.options.plugins.pgframe.idx;
    const { ctx, chartArea: a, scales } = chart;
    const xs = scales.x;
    const ys = scales.y;
    ctx.save();
    // error bars
    const eb = errorBars[i];
    if (eb && eb.length === 3) {
      const px = xs.getPixelForValue(eb[0]);
      const py = ys.getPixelForValue(eb[1]);
      const pt = Math.min(ys.getPixelForValue(eb[1] + eb[2]), py - 3);
      const pb = Math.max(ys.getPixelForValue(eb[1] - eb[2]), py + 3);
      ctx.fillStyle = "#22e0f0";
      ctx.fillRect(px - 3.5, py - 3.5, 7, 7);
      ctx.strokeStyle = "#2a2aff";
      ctx.lineWidth = 1.6;
      ctx.beginPath();
      ctx.moveTo(px, pt); ctx.lineTo(px, pb);
      ctx.moveTo(px - 2.5, pt); ctx.lineTo(px + 2.5, pt);
      ctx.moveTo(px - 2.5, pb); ctx.lineTo(px + 2.5, pb);
      ctx.stroke();
    }
    // frame
    ctx.strokeStyle = "#000";
    ctx.lineWidth = 1.5;
    ctx.strokeRect(a.left + 0.75, a.top + 0.75, a.right - a.left - 1.5, a.bottom - a.top - 1.5);
    ctx.lineWidth = 1;
    ctx.beginPath();
    for (const v of xMinorTicks) {
      const px = Math.round(xs.getPixelForValue(v)) + 0.5;
      const len = xTickLabels.includes(v) ? 8 : 4;
      ctx.moveTo(px, a.top); ctx.lineTo(px, a.top + len);
      ctx.moveTo(px, a.bottom); ctx.lineTo(px, a.bottom - len);
    }
    const step = yMinorSteps[i];
    const major = yTickLabels[i];
    for (let v = Math.ceil(yMins[i] / step) * step; v <= yMaxs[i]; v += step) {
      const val = Math.round(v * 1000) / 1000;
      const py = Math.round(ys.getPixelForValue(val)) + 0.5;
      const len = major.includes(val) ? 7 : 4;
      ctx.moveTo(a.left, py); ctx.lineTo(a.left + len, py);
      ctx.moveTo(a.right, py); ctx.lineTo(a.right - len, py);
    }
    ctx.stroke();
    // pulsar name
    ctx.fillStyle = "#000";
    ctx.font = "11px 'DejaVu Sans'";
    ctx.textAlign = "left";
    if (nameAtTop.includes(i)) {
      ctx.textBaseline = "top";
      ctx.fillText(pulsarNames[i], a.left + 7, a.top + 4);
    } else {
      ctx.textBaseline = "alphabetic";
      ctx.fillText(pulsarNames[i], a.left + 7, a.bottom - 4);
    }
    ctx.restore();
  },
};

function Panel({ i }: { i: number }) {
  const ref = useRef<HTMLCanvasElement>(null);
  const col = i < 15 ? 0 : 1;
  const row = i % 15;
  const top = rowTop(row);
  const isBottom = row === 14;
  const height = isBottom ? 1014 - top : rowTop(row + 1) - top;
  const left = col === 0 ? 0 : 320;

  useEffect(() => {
    const chart = new Chart(ref.current as HTMLCanvasElement, {
      type: "scatter",
      data: {
        datasets: [
          {
            data: toXY(cyanCrosses[i]),
            pointStyle: "crossRot",
            pointRadius: 3.5,
            borderColor: "#22e6f2",
            backgroundColor: "#22e6f2",
            borderWidth: 1.3,
            showLine: false,
          },
          {
            data: toXY(blueStars[i]),
            pointStyle: "star",
            pointRadius: 3.3,
            borderColor: "#2a2aff",
            backgroundColor: "#2a2aff",
            borderWidth: 1.2,
            showLine: false,
          },
          {
            type: "line",
            data: toXY(fitCurves[i]),
            borderColor: "#ff0000",
            borderWidth: 1.3,
            pointRadius: 0,
            tension: 0.4,
            fill: false,
            showLine: true,
          } as any,
          {
            data: toXY(dmxPoints[i].concat(dmxPointsDense[i])),
            pointStyle: "cross",
            pointRadius: 4,
            borderColor: "rgba(0,0,0,0.42)",
            backgroundColor: "rgba(0,0,0,0.42)",
            borderWidth: 1,
            showLine: false,
          },
        ],
      },
      options: {
        animation: false,
        responsive: false,
        devicePixelRatio: 1,
        events: [],
        layout: { padding: { left: 0, right: col ? 7 : 4, top: 0, bottom: 0 } },
        plugins: {
          legend: { display: false },
          tooltip: { enabled: false },
          pgframe: { idx: i },
        } as any,
        scales: {
          x: {
            type: "linear",
            min: X_MIN,
            max: X_MAX,
            display: isBottom,
            grid: { display: false, drawTicks: false },
            border: { display: false },
            ticks: {
              color: "#000",
              font: { family: "DejaVu Sans", size: 13 },
              padding: 5,
              maxRotation: 0,
              autoSkip: false,
              callback: (v: any) => String(v),
            },
            afterBuildTicks: (s: any) => {
              s.ticks = xTickLabels.map((v) => ({ value: v }));
            },
            afterFit: (s: any) => {
              s.height = isBottom ? 35 : 0;
              s.paddingLeft = 0;
              s.paddingRight = 0;
              s.paddingTop = 0;
              s.paddingBottom = 0;
            },
            title: {
              display: isBottom,
              text: "Year",
              color: "#000",
              font: { family: "Liberation Serif", size: 16 },
              padding: { top: 0, bottom: 0 },
            },
          },
          y: {
            type: "linear",
            min: yMins[i],
            max: yMaxs[i],
            grid: { display: false, drawTicks: false },
            border: { display: false },
            ticks: {
              color: "#000",
              font: { family: "DejaVu Sans", size: 13 },
              padding: 2,
              autoSkip: false,
              callback: (v: any) => minus(String(v)),
            },
            afterBuildTicks: (s: any) => {
              s.ticks = yTickLabels[i].map((v) => ({ value: v }));
            },
            afterFit: (s: any) => {
              s.width = col ? 79 : 83;
              s.paddingTop = 0;
              s.paddingBottom = 0;
              s.paddingLeft = 0;
              s.paddingRight = 0;
            },
            title: {
              display: true,
              text: offsetLabels[i],
              color: "#000",
              font: { family: "DejaVu Sans", size: 12 },
              padding: { top: col ? 21 : 27, bottom: 0 },
            },
          },
        },
      } as any,
      plugins: [framePlugin],
    });
    return () => chart.destroy();
  }, [i]);

  return (
    <canvas
      ref={ref}
      width={320}
      height={height}
      style={{ position: "absolute", left, top, width: 320, height, display: "block" }}
    />
  );
}

export default function App() {
  const panels = [];
  for (let i = 0; i < 30; i++) panels.push(<Panel key={i} i={i} />);
  return (
    <div
      style={{
        position: "absolute",
        left: 0,
        top: 0,
        width: 640,
        height: 1014,
        overflow: "hidden",
        background: "#fff",
      }}
    >
      {panels}
      <div
        style={{
          position: "absolute",
          left: 10,
          top: 563,
          transform: "translate(-50%, -50%) rotate(-90deg)",
          whiteSpace: "nowrap",
          fontFamily: "'Liberation Serif', serif",
          fontSize: 16,
          color: "#000",
          lineHeight: "18px",
        }}
      >
        DMX (10<sup style={{ fontSize: 10, verticalAlign: "6px", lineHeight: 0 }}>−4</sup>pc cm
        <sup style={{ fontSize: 10, verticalAlign: "6px", lineHeight: 0 }}>−3</sup>)
      </div>
    </div>
  );
}
